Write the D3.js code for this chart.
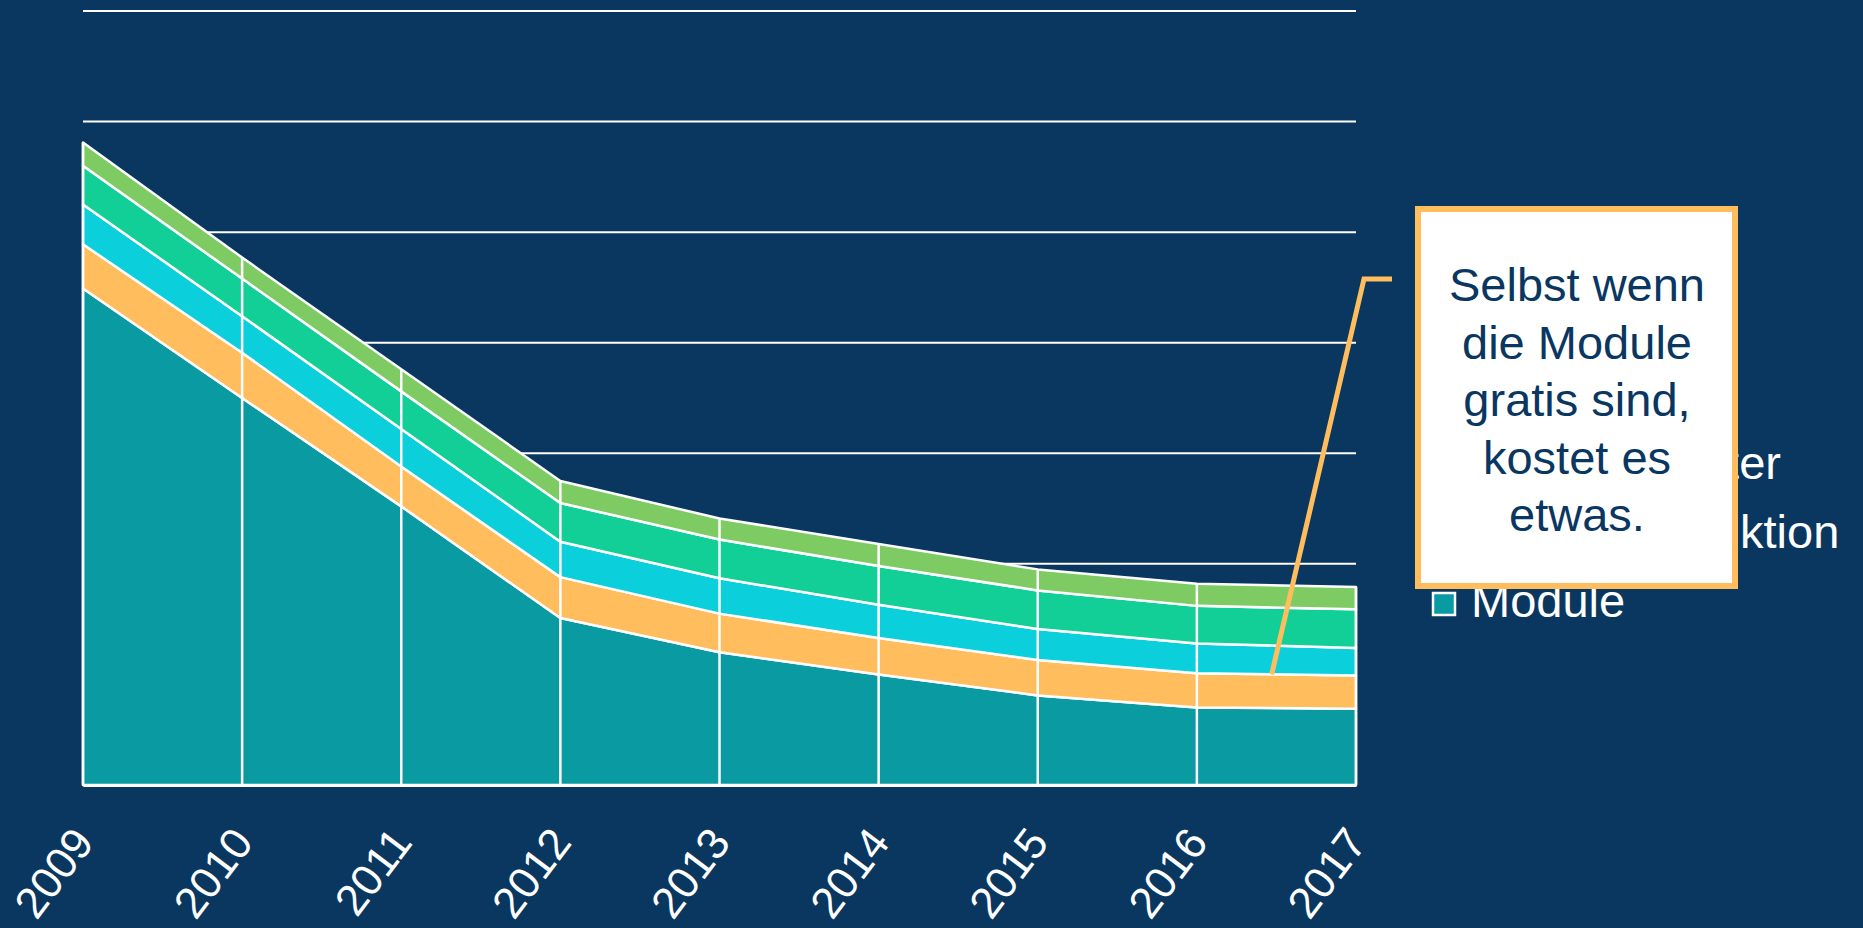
<!DOCTYPE html>
<html lang="de">
<meta charset="utf-8"/>
<body>
<svg id="chart" width="1863" height="928"></svg>
</body>
<style>
	body {
		margin: 0;
		background-color: #09375f;
		overflow: hidden;
	}
	svg {
		display: block;
		font-family: "Liberation Sans", Arial, sans-serif;
	}
</style>

<script src="https://d3js.org/d3.v7.min.js"></script>

<script>
// data (cost per watt, stacked)
let years = [2009, 2010, 2011, 2012, 2013, 2014, 2015, 2016, 2017]
let seriesNames = ["Module", "Unterkonstruktion", "Wechselrichter", "Installation", "Sonstiges"]
let module = [4.49, 3.50, 2.52, 1.51, 1.20, 1.00, 0.81, 0.70, 0.69]
let unterkonstruktion = [0.40, 0.41, 0.36, 0.37, 0.35, 0.33, 0.32, 0.31, 0.30]
let wechselrichter = [0.36, 0.33, 0.34, 0.32, 0.32, 0.30, 0.28, 0.27, 0.25]
let installation = [0.35, 0.34, 0.34, 0.35, 0.35, 0.35, 0.35, 0.34, 0.35]
let sonstiges = [0.21, 0.19, 0.20, 0.20, 0.19, 0.20, 0.19, 0.20, 0.20]
let gridValues = [0, 1, 2, 3, 4, 5, 6, 7]
let colors = ["#0a9ba2", "#ffbd5e", "#0bcfda", "#12cf98", "#7fcb63"]
let calloutLines = ["Selbst wenn", "die Module", "gratis sind,", "kostet es", "etwas."]
let calloutYear = 2016.47

let svg = d3.select("#chart")
let plotLeft = 83
let plotRight = 1356
let plotTop = 11
let plotBottom = 785

let table = years.map((y, i) => ({
	year: y,
	Module: module[i],
	Unterkonstruktion: unterkonstruktion[i],
	Wechselrichter: wechselrichter[i],
	Installation: installation[i],
	Sonstiges: sonstiges[i]
}))

let stacked = d3.stack().keys(seriesNames)(table)

let xScale = d3.scaleLinear()
	.domain([d3.min(years), d3.max(years)])
	.range([plotLeft, plotRight])

let yScale = d3.scaleLinear()
	.domain([0, 7])
	.range([plotBottom, plotTop])

// gridlines behind the areas
svg.append("g")
	.selectAll("line")
	.data(gridValues)
	.enter()
	.append("line")
	.attr("x1", plotLeft)
	.attr("x2", plotRight)
	.attr("y1", d => yScale(d))
	.attr("y2", d => yScale(d))
	.attr("stroke", "#ffffff")
	.attr("stroke-width", 2)

let area = d3.area()
	.x(d => xScale(d.data.year))
	.y0(d => yScale(d[0]))
	.y1(d => yScale(d[1]))

svg.append("g")
	.selectAll("path")
	.data(stacked)
	.enter()
	.append("path")
	.attr("d", area)
	.attr("fill", (d, i) => colors[i])
	.attr("stroke", "#ffffff")
	.attr("stroke-width", 2.5)
	.attr("stroke-linejoin", "round")

// drop lines at every year
let topSeries = stacked[stacked.length - 1]
svg.append("g")
	.selectAll("line")
	.data(topSeries)
	.enter()
	.append("line")
	.attr("x1", d => xScale(d.data.year))
	.attr("x2", d => xScale(d.data.year))
	.attr("y1", yScale(0))
	.attr("y2", d => yScale(d[1]))
	.attr("stroke", "#ffffff")
	.attr("stroke-width", 2.5)

// x axis, labels slanted steeply
let xAxis = svg.append("g")
	.attr("transform", "translate(0," + plotBottom + ")")
	.call(d3.axisBottom(xScale).tickValues(years).tickFormat(d3.format("d")).tickSize(0))
xAxis.select(".domain")
	.attr("stroke", "#ffffff")
	.attr("stroke-width", 3)
xAxis.selectAll("text")
	.attr("fill", "#ffffff")
	.style("font-size", "44px")
	.style("font-family", "'Liberation Sans', Arial, sans-serif")
	.attr("text-anchor", "end")
	.attr("dy", 0)
	.attr("y", 0)
	.attr("transform", "translate(12,58) rotate(-53)")

// legend (partly hidden behind the callout)
let legend = svg.append("g")
	.selectAll("g")
	.data(seriesNames)
	.enter()
	.append("g")
	.attr("transform", (d, i) => "translate(1432," + (617 - i * 69) + ")")
legend.append("rect")
	.attr("x", 1)
	.attr("y", -24)
	.attr("width", 22)
	.attr("height", 22)
	.attr("fill", (d, i) => colors[i])
	.attr("stroke", "#ffffff")
	.attr("stroke-width", 2.5)
legend.append("text")
	.attr("x", 39)
	.attr("y", 0)
	.attr("fill", "#ffffff")
	.style("font-size", "47px")
	.text(d => d)

// callout with leader line
let b2 = d3.range(years.length).map(i => module[i] + unterkonstruktion[i])
let j = d3.bisectRight(years, calloutYear) - 1
let t = calloutYear - years[j]
let anchorValue = b2[j] + (b2[j + 1] - b2[j]) * t

svg.append("polyline")
	.attr("points", [[1392, 279], [1364, 279], [xScale(calloutYear), yScale(anchorValue)]].map(p => p.join(",")).join(" "))
	.attr("fill", "none")
	.attr("stroke", "#ffbd5e")
	.attr("stroke-width", 5)

svg.append("rect")
	.attr("x", 1418)
	.attr("y", 209)
	.attr("width", 317)
	.attr("height", 377)
	.attr("fill", "#ffffff")
	.attr("stroke", "#ffbd5e")
	.attr("stroke-width", 6)

svg.append("text")
	.attr("text-anchor", "middle")
	.attr("fill", "#0a3761")
	.style("font-size", "47px")
	.selectAll("tspan")
	.data(calloutLines)
	.enter()
	.append("tspan")
	.attr("x", 1577)
	.attr("y", (d, i) => 301 + i * 57.5)
	.text(d => d)
</script>
</html>
